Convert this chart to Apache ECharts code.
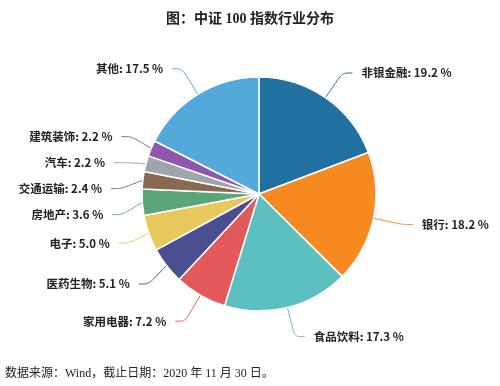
<!DOCTYPE html>
<html><head><meta charset="utf-8">
<script src="https://cdn.jsdelivr.net/npm/echarts@6/dist/echarts.min.js"></script>
<style>html,body{margin:0;padding:0;background:#fff}#c{width:500px;height:386px}</style>
</head><body><div id="c"></div>
<script>
const categories = ['非银金融','银行','食品饮料','家用电器','医药生物','电子','房地产','交通运输','汽车','建筑装饰','其他'];
const values = [19.2,18.2,17.3,7.2,5.1,5.0,3.6,2.4,2.2,2.2,17.5];
const colors = ['#22709f','#f68a20','#5cbfc0','#e45a5b','#4c4f8f','#e7c85c','#5aa67a','#8a6a4f','#9fa4ad','#8d57ae','#53a9d9'];
const chart = echarts.init(document.getElementById('c'));
chart.setOption({
  animation:false,
  title:{text:'图：中证 100 指数行业分布',left:'center',top:7,textStyle:{fontSize:14,fontWeight:'bold',color:'#222',fontFamily:'Liberation Serif, Noto Sans CJK SC'}},
  graphic:[{type:'text',left:5,top:368,style:{text:'数据来源：Wind，截止日期：2020 年 11 月 30 日。',fontSize:12,fill:'#222',fontFamily:'Liberation Serif, Noto Sans CJK SC'}}],
  series:[{
    type:'pie',center:[259,194],radius:[0,117],startAngle:90,clockwise:true,
    itemStyle:{borderColor:'#fff',borderWidth:1.5},
    label:{formatter:p=>p.name+': '+p.value.toFixed(1)+' %',overflow:'none',fontSize:11.5,lineHeight:24,distanceToLabelLine:9,fontWeight:'bold',color:'#222',fontFamily:'Noto Sans CJK SC'},
    labelLine:{length:30,length2:10,smooth:0.3,lineStyle:{width:1}},
    data:categories.map((n,i)=>({name:n,value:values[i],itemStyle:{color:colors[i]}}))
  }]
});
</script></body></html>
